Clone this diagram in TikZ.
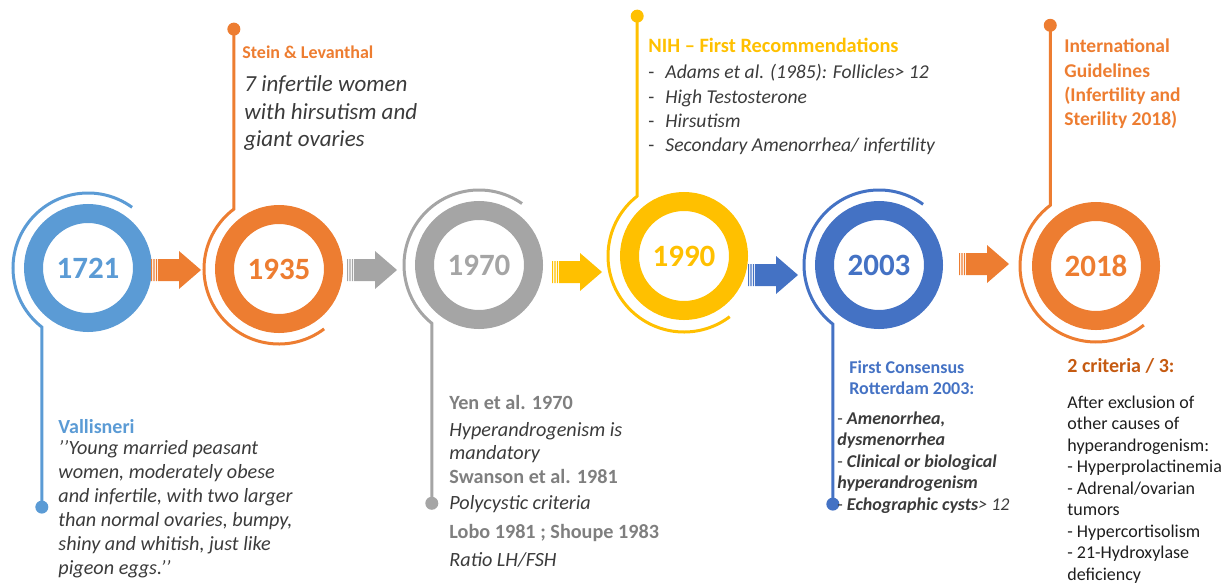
\documentclass[tikz,border=0pt]{standalone}
\usepackage{fontspec}
\setmainfont{Carlito}
\usetikzlibrary{arrows}

\definecolor{skyblue}{HTML}{5B9BD5}
\definecolor{tangerine}{HTML}{ED7D31}
\definecolor{rust}{HTML}{C55A11}
\definecolor{ashgray}{HTML}{A5A5A5}
\definecolor{slate}{HTML}{7F7F7F}
\definecolor{amber}{HTML}{FFC000}
\definecolor{royal}{HTML}{4472C4}
\definecolor{ink}{HTML}{3B3B3B}
\definecolor{darkink}{HTML}{1E1E1E}

% striped block arrow, tail at #2
\newcommand{\yeararrow}[2]{%
  \begin{scope}[shift={(#2)}]
    \fill[#1] (0,-11) rectangle (1.2,11)
              (2.4,-11) rectangle (3.6,11)
              (4.8,-11) rectangle (6,11)
              (7,-11) -- (28,-11) -- (28,-19) -- (50,0) -- (28,19) -- (28,11) -- (7,11) -- cycle;
  \end{scope}}

\begin{document}
\begin{tikzpicture}[x=0.5pt,y=0.5pt,
    year/.style={circle,draw=#1,line width=9.5pt,minimum size=54.5pt,inner sep=0pt,
                 text=#1,font=\fontsize{15.5}{18}\selectfont\bfseries},
    stem/.style={draw=#1,line width=1.5pt},
    dot/.style={circle,fill=#1,inner sep=0pt,minimum size=6.5pt},
    head/.style={anchor=base west,align=left,inner sep=0pt,text=#1,
                 font=\fontsize{9.75}{12.2}\selectfont\bfseries},
    body/.style={anchor=base west,align=left,inner sep=0pt,text=ink,
                 font=\fontsize{10.1}{12}\selectfont\itshape}]

  \useasboundingbox (0,0) rectangle (1226,-583);

  \node[year=skyblue]   (y1721) at (88,-268)   {1721};
  \node[year=tangerine] (y1935) at (279,-269)  {1935};
  \node[year=ashgray]   (y1970) at (479,-265)  {1970};
  \node[year=amber]     (y1990) at (684,-256)  {1990};
  \node[year=royal]     (y2003) at (879,-265)  {2003};
  \node[year=tangerine] (y2018) at (1096,-266) {2018};

  \draw[stem=skyblue] ([shift={(54:37.5pt)}]y1721.center) arc[start angle=54,end angle=232,radius=37.5pt]
    -- ++(0,-180) node[dot=skyblue] (d1721) {};
  \draw[stem=tangerine] ([shift={(307:37.5pt)}]y1935.center) arc[start angle=307,end angle=127,radius=37.5pt]
    -- ++(0,180) node[dot=tangerine] (d1935) {};
  \draw[stem=ashgray] ([shift={(55:37.5pt)}]y1970.center) arc[start angle=55,end angle=231,radius=37.5pt]
    -- ++(0,-180) node[dot=ashgray] (d1970) {};
  \draw[stem=amber] ([shift={(307:38pt)}]y1990.center) arc[start angle=307,end angle=128,radius=38pt]
    -- ++(0,180) node[dot=amber] (d1990) {};
  \draw[stem=royal] ([shift={(54:37.5pt)}]y2003.center) arc[start angle=54,end angle=232,radius=37.5pt]
    -- ++(0,-180) node[dot=royal] (d2003) {};
  \draw[stem=tangerine] ([shift={(309:38pt)}]y2018.center) arc[start angle=309,end angle=127,radius=38pt]
    -- ++(0,180) node[dot=tangerine] (d2018) {};

  \coordinate (a1) at (151,-270);
  \coordinate (a2) at (347,-270);
  \coordinate (a3) at (552,-272);
  \coordinate (a4) at (748,-275);
  \coordinate (a5) at (959,-264);
  \yeararrow{tangerine}{a1}
  \yeararrow{ashgray}{a2}
  \yeararrow{amber}{a3}
  \yeararrow{royal}{a4}
  \yeararrow{tangerine}{a5}

  % multi-line texts sit on the baseline of their last line
  % 1721
  \node[head=skyblue,font=\fontsize{10}{12}\selectfont\bfseries] (vallisneri) at (58,-433) {Vallisneri};
  \node[body] (peasant) at (58,-574) {'{}'Young married peasant\\women, moderately obese\\and infertile, with two larger\\than normal ovaries, bumpy,\\shiny and whitish, just like\\pigeon eggs.'{}'};

  % 1935
  \node[head=tangerine,font=\fontsize{9}{11}\selectfont\bfseries] (stein) at (242,-59) {Stein \& Levanthal};
  \node[body,font=\fontsize{11.5}{13.8}\selectfont\itshape] (ovaries) at (244,-147)
    {7 infertile women\\with hirsutism and\\giant ovaries};

  % 1970
  \node[body,font=\fontsize{10.1}{12}\selectfont] (yen) at (449,-566)
    {\textcolor{slate}{\bfseries Yen et al. 1970}\\[1.5pt]
     \textit{Hyperandrogenism is}\\[-0.5pt]
     \textit{mandatory}\\
     \textcolor{slate}{\bfseries Swanson et al. 1981}\\[1pt]
     \textit{Polycystic criteria}\\[2.5pt]
     \textcolor{slate}{\bfseries Lobo 1981 ; Shoupe 1983}\\[2pt]
     \textit{Ratio LH/FSH}};

  % 1990
  \node[head=amber,font=\fontsize{10.2}{12}\selectfont\bfseries] (nih) at (648,-53) {NIH -- First Recommendations};
  \node[body,font=\fontsize{9.8}{12.25}\selectfont] (nihlist) at (648,-152)
    {\makebox[8.5pt][l]{-}\textit{Adams et al. (1985): Follicles> 12}\\
     \makebox[8.5pt][l]{-}\textit{High Testosterone}\\
     \makebox[8.5pt][l]{-}\textit{Hirsutism}\\
     \makebox[8.5pt][l]{-}\textit{Secondary Amenorrhea/ infertility}};

  % 2003
  \node[head=royal,font=\fontsize{9}{10.5}\selectfont\bfseries] (rotterdam) at (849,-394)
    {First Consensus\\Rotterdam 2003:};
  \node[body,font=\fontsize{9}{10.75}\selectfont] (rotlist) at (837,-510)
    {- \textbf{\textit{Amenorrhea,}}\\
     \textbf{\textit{dysmenorrhea}}\\
     - \textbf{\textit{Clinical or biological}}\\
     \textbf{\textit{hyperandrogenism}}\\
     - \textbf{\textit{Echographic cysts}}\textit{> 12}};

  % 2018
  \node[head=tangerine] (guidelines) at (1064,-126)
    {International\\Guidelines\\(Infertility and\\Sterility 2018)};
  \node[head=rust,font=\fontsize{10}{12}\selectfont\bfseries] (criteria) at (1067,-372) {2 criteria / 3:};
  \node[body,text=darkink,font=\fontsize{9}{10.75}\selectfont] (exclusion) at (1067,-580)
    {After exclusion of\\other causes of\\hyperandrogenism:\\- Hyperprolactinemia\\- Adrenal/ovarian\\tumors\\- Hypercortisolism\\- 21-Hydroxylase\\deficiency};
\end{tikzpicture}
\end{document}
